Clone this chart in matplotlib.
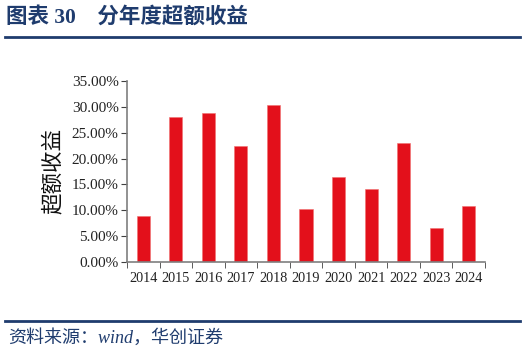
import numpy as np
import matplotlib.pyplot as plt
from matplotlib.ticker import FuncFormatter, FixedLocator
from matplotlib.lines import Line2D

years = ["2014", "2015", "2016", "2017", "2018", "2019",
         "2020", "2021", "2022", "2023", "2024"]
excess = [0.089, 0.280, 0.288, 0.224, 0.304, 0.102,
          0.164, 0.141, 0.230, 0.066, 0.108]

title = "图表 30    分年度超额收益"
ylabel = "超额收益"
source = "资料来源：wind，华创证券"

navy = "#1F3C6E"
red = "#E3101B"
cjk = ["Noto Sans CJK SC", "DejaVu Sans"]
serif = ["Liberation Serif", "Noto Sans CJK SC"]

fig = plt.figure(figsize=(5.24, 3.56), dpi=100)
ax = fig.add_axes([127 / 524, 1 - 262 / 356, (485 - 127) / 524, (262 - 81) / 356])

x = np.arange(len(years))
ax.bar(x, excess, width=0.4, color=red, edgecolor="#F07070", linewidth=0.4)

ax.set_xlim(-0.5, len(years) - 0.5)
ax.set_ylim(0, 0.35)
ax.set_yticks(np.arange(0, 0.351, 0.05))
ax.yaxis.set_major_formatter(FuncFormatter(lambda v, p: f"{v * 100:.2f}%"))
ax.set_xticks(x)
ax.set_xticklabels(years)
ax.xaxis.set_minor_locator(FixedLocator(np.arange(-0.5, len(years), 1.0)))
ax.tick_params(axis="x", which="major", length=0, pad=7)
ax.tick_params(axis="x", which="minor", length=4, direction="out", color="#404040")
ax.tick_params(axis="y", length=4, direction="out", color="#404040", pad=2)
for lab in ax.get_xticklabels():
    lab.set_family(serif)
    lab.set_fontsize(10.3)
    lab.set_color("#222222")
for lab in ax.get_yticklabels():
    lab.set_family(serif)
    lab.set_fontsize(11)
    lab.set_color("#222222")

for s in ["top", "right"]:
    ax.spines[s].set_visible(False)
for s in ["left", "bottom"]:
    ax.spines[s].set_color("#7F7F7F")
    ax.spines[s].set_linewidth(1.2)

fig.text(53 / 524, 1 - 171 / 356, ylabel, rotation=90, ha="center", va="center",
         fontsize=15.5, family=cjk, color="#111111")

fig.text(6 / 524, 1 - 17 / 356, title, ha="left", va="center", fontsize=15.5,
         fontweight="bold", family=["Liberation Serif", "Noto Sans CJK SC"], color=navy)
fig.add_artist(Line2D([5 / 524, 520 / 524], [1 - 37 / 356, 1 - 37 / 356],
                      color=navy, linewidth=2, transform=fig.transFigure))
fig.add_artist(Line2D([5 / 524, 520 / 524], [1 - 321 / 356, 1 - 321 / 356],
                      color=navy, linewidth=2, transform=fig.transFigure))
fig.text(8 / 524, 1 - 338 / 356, source, ha="left", va="center", fontsize=13,
         style="italic", family=["Liberation Serif", "Noto Sans CJK SC"], color=navy)

fig.savefig("out.png", dpi=100)
